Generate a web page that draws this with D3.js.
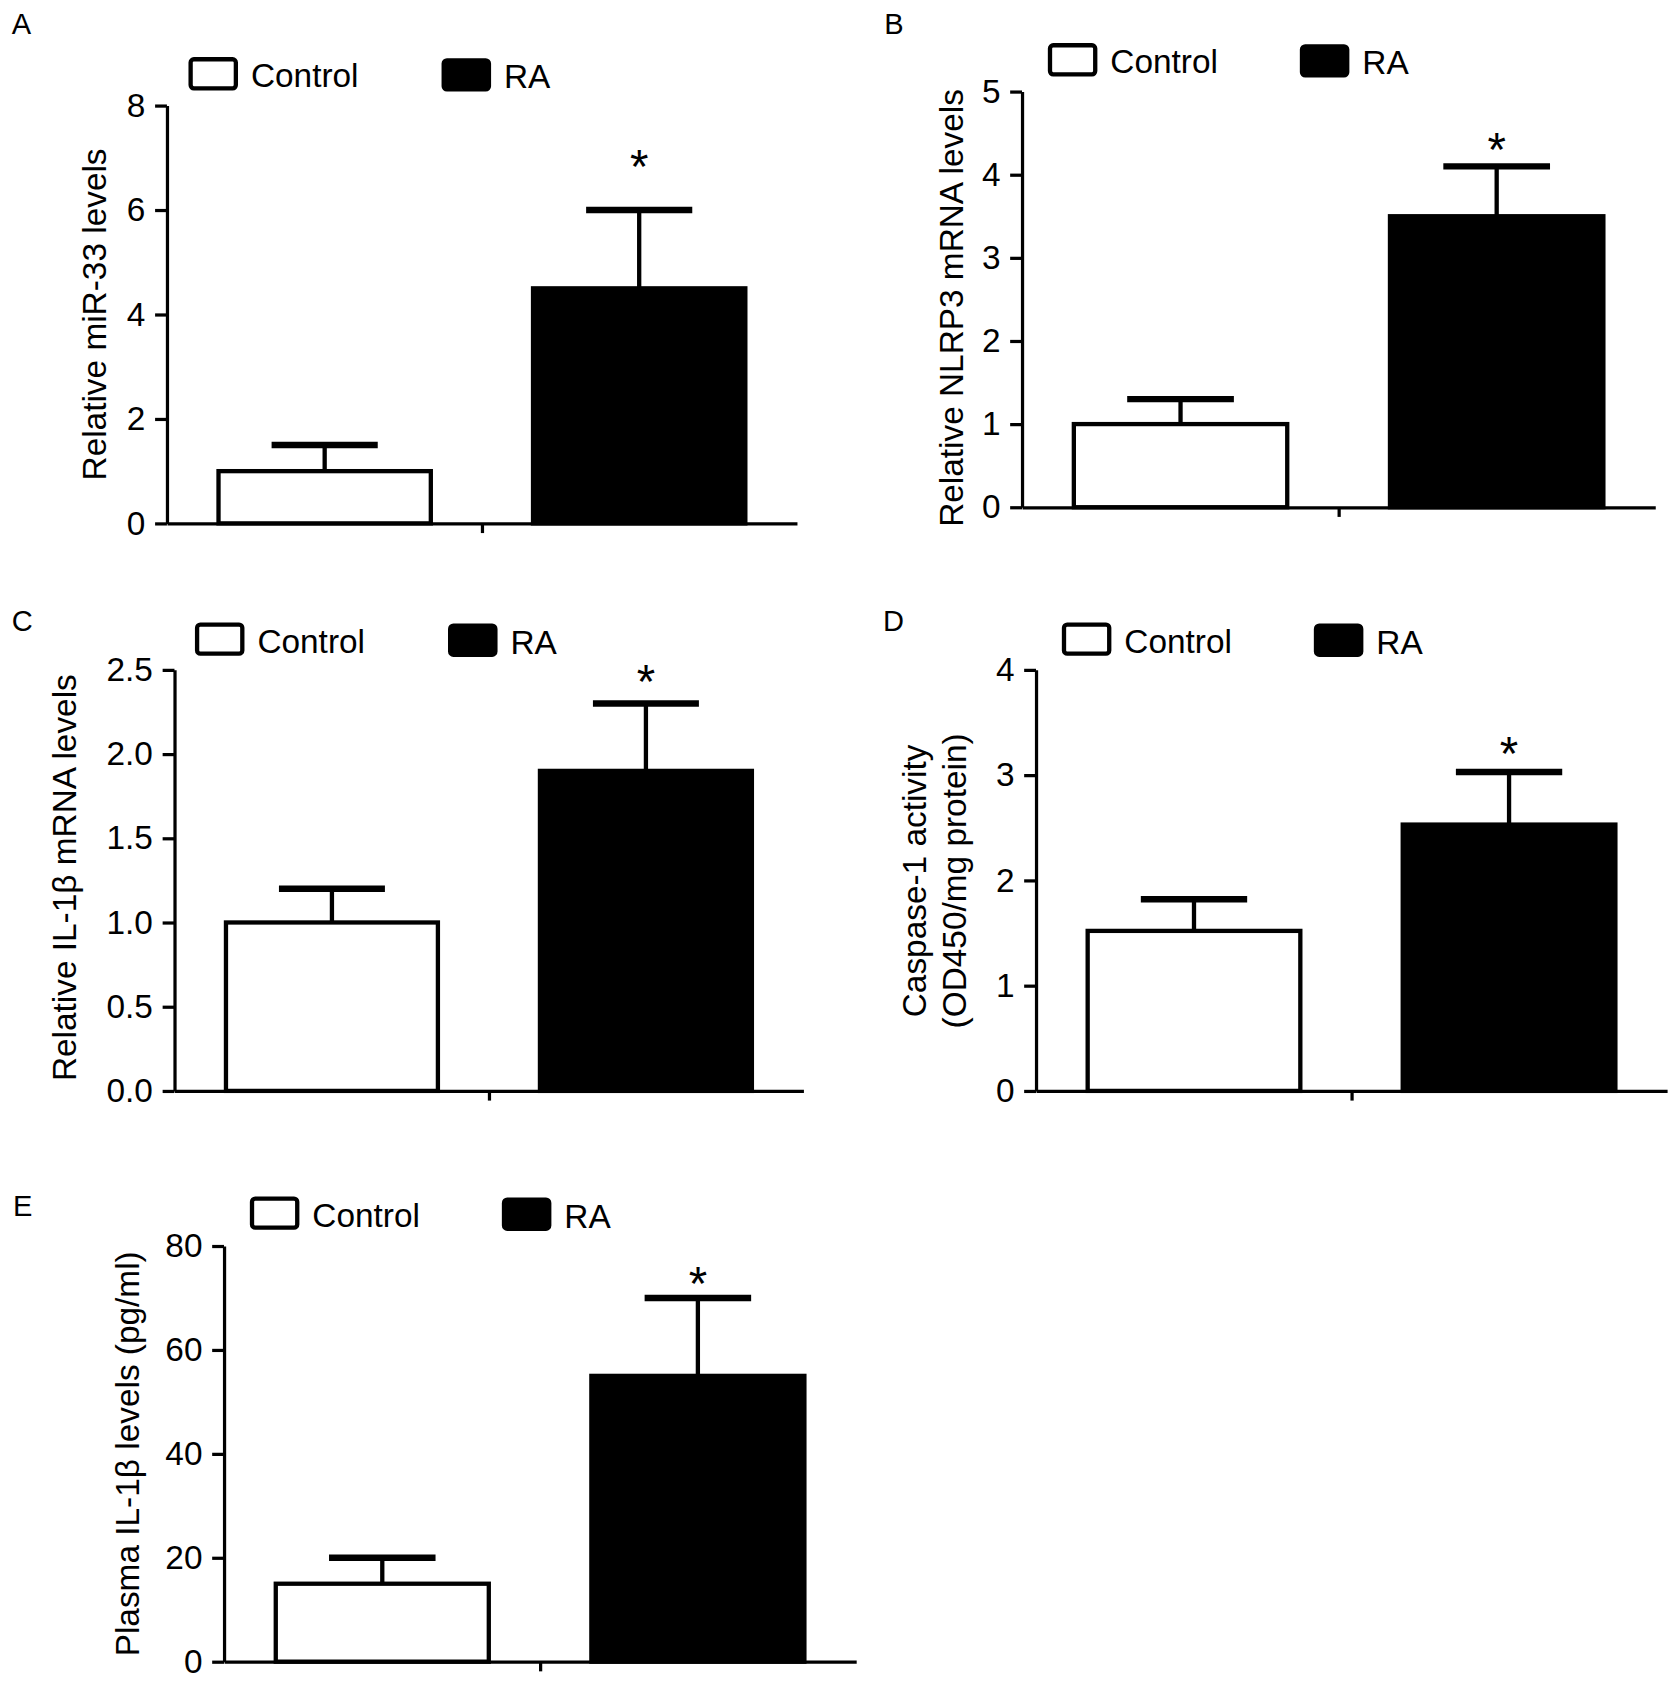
<!DOCTYPE html>
<html>
<head>
<meta charset="utf-8">
<script src="https://cdn.jsdelivr.net/npm/d3@7"></script>
<style>
  html, body { margin: 0; padding: 0; background: #fff; }
  svg { display: block; }
  text { font-family: "Liberation Sans", Arial, sans-serif; fill: #000; }
</style>
</head>
<body>
<svg id="chart" width="1680" height="1686" viewBox="0 0 1560 1565.6"></svg>
<script>
// ---------------- DATA ----------------
const groups = ["Control", "RA"];

const miR33Mean = [1.0, 4.5];
const miR33Err  = [0.5, 1.5];
const miR33Ticks = [0, 2, 4, 6, 8];

const nlrp3Mean = [1.0, 3.5];
const nlrp3Err  = [0.3, 0.6];
const nlrp3Ticks = [0, 1, 2, 3, 4, 5];

const il1bMean = [1.0, 1.9];
const il1bErr  = [0.2, 0.4];
const il1bTicks = [0, 0.5, 1.0, 1.5, 2.0, 2.5];

const casp1Mean = [1.52, 2.53];
const casp1Err  = [0.3, 0.5];
const casp1Ticks = [0, 1, 2, 3, 4];

const plasmaMean = [15, 55];
const plasmaErr  = [5, 15];
const plasmaTicks = [0, 20, 40, 60, 80];

const significance = ["", "*"];

// ---------------- LAYOUT ----------------
const panels = [
  { letter: "A", mean: miR33Mean, err: miR33Err, ticks: miR33Ticks, fmt: d3.format("d"),
    title: ["Relative miR-33 levels"],
    ax: 155, y0: 486, yTop: 98, xEnd: 740, letterX: 11, letterY: 32,
    legY: 55, legCx: 177, legRx: 412, titleX: [98], titleY: 292, starGap: 25 },
  { letter: "B", mean: nlrp3Mean, err: nlrp3Err, ticks: nlrp3Ticks, fmt: d3.format("d"),
    title: ["Relative NLRP3 mRNA levels"],
    ax: 949, y0: 471, yTop: 85, xEnd: 1537, letterX: 821, letterY: 32,
    legY: 42, legCx: 975, legRx: 1209, titleX: [894], titleY: 286, starGap: 0 },
  { letter: "C", mean: il1bMean, err: il1bErr, ticks: il1bTicks, fmt: d3.format(".1f"),
    title: ["Relative IL-1\u03B2 mRNA levels"],
    ax: 162, y0: 1013, yTop: 622, xEnd: 746, letterX: 11, letterY: 586,
    legY: 580, legCx: 183, legRx: 418, titleX: [71], titleY: 815, starGap: 5 },
  { letter: "D", mean: casp1Mean, err: casp1Err, ticks: casp1Ticks, fmt: d3.format("d"),
    title: ["Caspase-1 activity", "(OD450/mg protein)"],
    ax: 962, y0: 1013, yTop: 622, xEnd: 1548, letterX: 820, letterY: 586,
    legY: 580, legCx: 988, legRx: 1222, titleX: [860, 897], titleY: 818, starGap: 2 },
  { letter: "E", mean: plasmaMean, err: plasmaErr, ticks: plasmaTicks, fmt: d3.format("d"),
    title: ["Plasma IL-1\u03B2 levels (pg/ml)"],
    ax: 208, y0: 1543, yTop: 1157, xEnd: 795, letterX: 12, letterY: 1129,
    legY: 1113, legCx: 234, legRx: 468, titleX: [129], titleY: 1350, starGap: -2 }
];

const svg = d3.select("#chart");

panels.forEach(p => {
  const g = svg.append("g");
  const y = d3.scaleLinear()
    .domain([p.ticks[0], p.ticks[p.ticks.length - 1]])
    .range([p.y0, p.yTop]);
  const x = d3.scaleBand()
    .domain(groups)
    .range([p.ax, p.xEnd])
    .paddingInner(0.325)
    .paddingOuter(0.164);
  const xGroup = d3.scalePoint().domain(["g"]).range([p.ax, p.xEnd]).padding(0.5);

  // panel letter
  g.append("text").attr("x", p.letterX).attr("y", p.letterY)
    .attr("font-size", 27).text(p.letter);

  // legend
  const legX = [p.legCx, p.legRx];
  groups.forEach((name, i) => {
    g.append("rect")
      .attr("x", legX[i]).attr("y", p.legY + (i ? 1 : 0))
      .attr("width", 42).attr("height", 27).attr("rx", 3)
      .attr("fill", i ? "#000" : "#fff")
      .attr("stroke", "#000").attr("stroke-width", 4);
    g.append("text")
      .attr("x", legX[i] + 56).attr("y", p.legY + 26 + (i ? 1 : 0))
      .attr("font-size", 31)
      .text(name);
  });

  // bars
  g.selectAll("rect.bar").data(groups).enter().append("rect")
    .attr("class", "bar")
    .attr("x", d => x(d))
    .attr("y", (d, i) => y(p.mean[i]))
    .attr("width", x.bandwidth())
    .attr("height", (d, i) => y(0) - y(p.mean[i]))
    .attr("fill", (d, i) => i ? "#000" : "#fff")
    .attr("stroke", "#000").attr("stroke-width", 4);

  // error bars
  groups.forEach((d, i) => {
    const cx = x(d) + x.bandwidth() / 2;
    const top = y(p.mean[i] + p.err[i]);
    g.append("line")
      .attr("x1", cx).attr("x2", cx)
      .attr("y1", y(p.mean[i])).attr("y2", top)
      .attr("stroke", "#000").attr("stroke-width", 4);
    g.append("line")
      .attr("x1", cx - x.bandwidth() * 0.25).attr("x2", cx + x.bandwidth() * 0.25)
      .attr("y1", top).attr("y2", top)
      .attr("stroke", "#000").attr("stroke-width", 6);
    if (significance[i]) {
      g.append("text")
        .attr("x", cx).attr("y", top - p.starGap)
        .attr("text-anchor", "middle")
        .attr("font-size", 44)
        .text(significance[i]);
    }
  });

  // y axis
  const yAxis = g.append("g")
    .attr("transform", `translate(${p.ax},0)`)
    .call(d3.axisLeft(y).tickValues(p.ticks).tickFormat(p.fmt).tickSize(11).tickSizeOuter(0).tickPadding(9));
  yAxis.select(".domain").attr("stroke-width", 3);
  yAxis.selectAll(".tick line").attr("stroke-width", 3);
  yAxis.selectAll(".tick text")
    .attr("font-size", 31)
    .attr("font-family", "'Liberation Sans', Arial, sans-serif")
    .attr("fill", "#000");

  // x axis
  const xAxis = g.append("g")
    .attr("transform", `translate(0,${p.y0})`)
    .call(d3.axisBottom(xGroup).tickSize(9).tickSizeOuter(0).tickFormat(""));
  xAxis.select(".domain").attr("stroke-width", 3);
  xAxis.selectAll(".tick line").attr("stroke-width", 3);

  // y title
  p.title.forEach((t, j) => {
    g.append("text")
      .attr("transform", `translate(${p.titleX[j]},${p.titleY}) rotate(-90)`)
      .attr("text-anchor", "middle")
      .attr("font-size", 31)
      .text(t);
  });
});
</script>
</body>
</html>
